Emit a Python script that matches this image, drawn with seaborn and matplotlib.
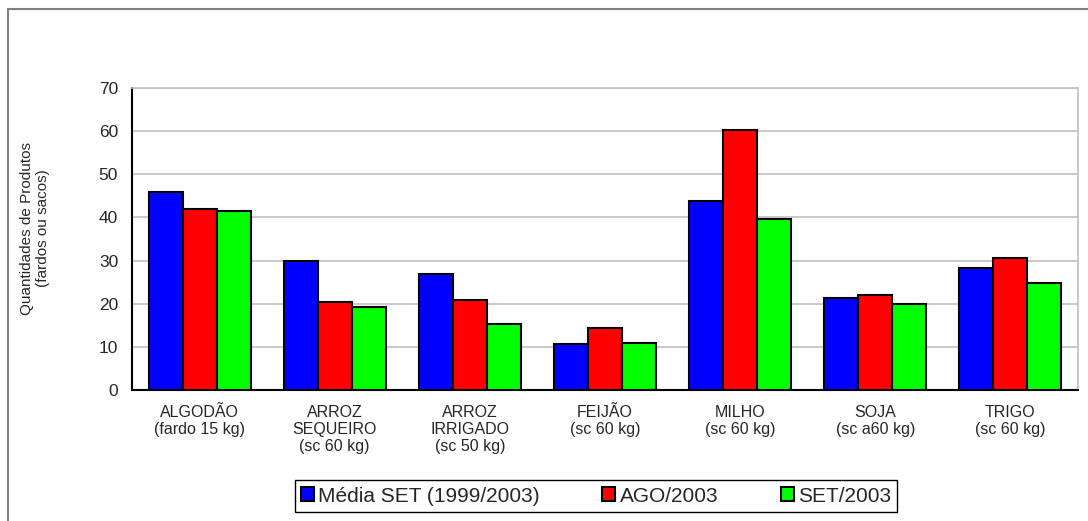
import pandas as pd
import numpy as np
import matplotlib
matplotlib.use("Agg")
import matplotlib.pyplot as plt
import seaborn as sns
from matplotlib.patches import Rectangle

produtos = ["ALGODÃO\n(fardo 15 kg)", "ARROZ\nSEQUEIRO\n(sc 60 kg)", "ARROZ\nIRRIGADO\n(sc 50 kg)",
            "FEIJÃO\n(sc 60 kg)", "MILHO\n(sc 60 kg)", "SOJA\n(sc a60 kg)", "TRIGO\n(sc 60 kg)"]
series = ["Média SET (1999/2003)", "AGO/2003", "SET/2003"]
media_set = [45.8, 29.9, 26.9, 10.6, 43.7, 21.4, 28.2]
ago_2003 = [41.9, 20.4, 20.9, 14.4, 60.2, 22.1, 30.7]
set_2003 = [41.5, 19.3, 15.3, 10.9, 39.6, 20.0, 24.7]
cores = ["#0000ff", "#ff0000", "#00ff00"]


def main():
    df = pd.DataFrame({
        "produto": produtos * 3,
        "serie": [series[0]] * 7 + [series[1]] * 7 + [series[2]] * 7,
        "valor": media_set + ago_2003 + set_2003,
    })

    sns.set_style("white")
    plt.rcParams["font.family"] = ["Liberation Sans", "DejaVu Sans"]

    fig = plt.figure(figsize=(10.88, 5.21), dpi=100)
    ax = fig.add_axes([132 / 1088, 1 - 390 / 521, 946 / 1088, 302 / 521])

    # moldura externa cinza
    fig.patches.append(Rectangle((8 / 1088, -0.1), 1.2, 1.1 - 9 / 521, transform=fig.transFigure,
                                 fill=False, edgecolor="#808080", linewidth=1.5))

    sns.barplot(data=df, x="produto", y="valor", hue="serie", palette=cores, width=0.755,
                edgecolor="black", linewidth=1.5, saturation=1, ax=ax, zorder=3)

    ax.set_ylim(0, 70)
    ax.set_xlim(-0.5, 6.5)
    ax.set_yticks(np.arange(0, 71, 10))
    ax.yaxis.grid(True, color="#c0c0c0", linewidth=1.2, zorder=0)
    ax.set_axisbelow(True)

    ax.set_xticks(np.arange(7))
    ax.set_xticklabels(produtos, fontsize=11.5, va="top", linespacing=1.15)
    ax.set_xticks(np.arange(-0.5, 7, 1), minor=True)
    ax.tick_params(axis="x", which="major", length=0, pad=11)
    ax.tick_params(axis="x", which="minor", length=5, width=1.2, color="black", direction="out")
    ax.tick_params(axis="y", length=5, width=1.2, color="black", direction="out", labelsize=12.5, pad=5)

    for s in ["left", "bottom"]:
        ax.spines[s].set_color("black")
        ax.spines[s].set_linewidth(1.5)
    for s in ["top", "right"]:
        ax.spines[s].set_color("#c0c0c0")
        ax.spines[s].set_linewidth(1.2)

    ax.set_xlabel("")
    ax.set_ylabel("Quantidades de Produtos\n(fardos ou sacos)", fontsize=11, labelpad=35, linespacing=1.15)
    ax.yaxis.label.set_y(0.536)

    ax.legend(loc="center", bbox_to_anchor=(596 / 1088, 1 - 496 / 521), bbox_transform=fig.transFigure,
              ncol=3, frameon=True, fancybox=False, edgecolor="black", fontsize=15,
              handlelength=0.62, handleheight=0.62, handletextpad=0.2, columnspacing=3.0,
              borderpad=0.3, borderaxespad=0, framealpha=1)
    ax.get_legend().get_frame().set_linewidth(1.0)

    plt.savefig("out.png", dpi=100)


if __name__ == "__main__":
    main()
